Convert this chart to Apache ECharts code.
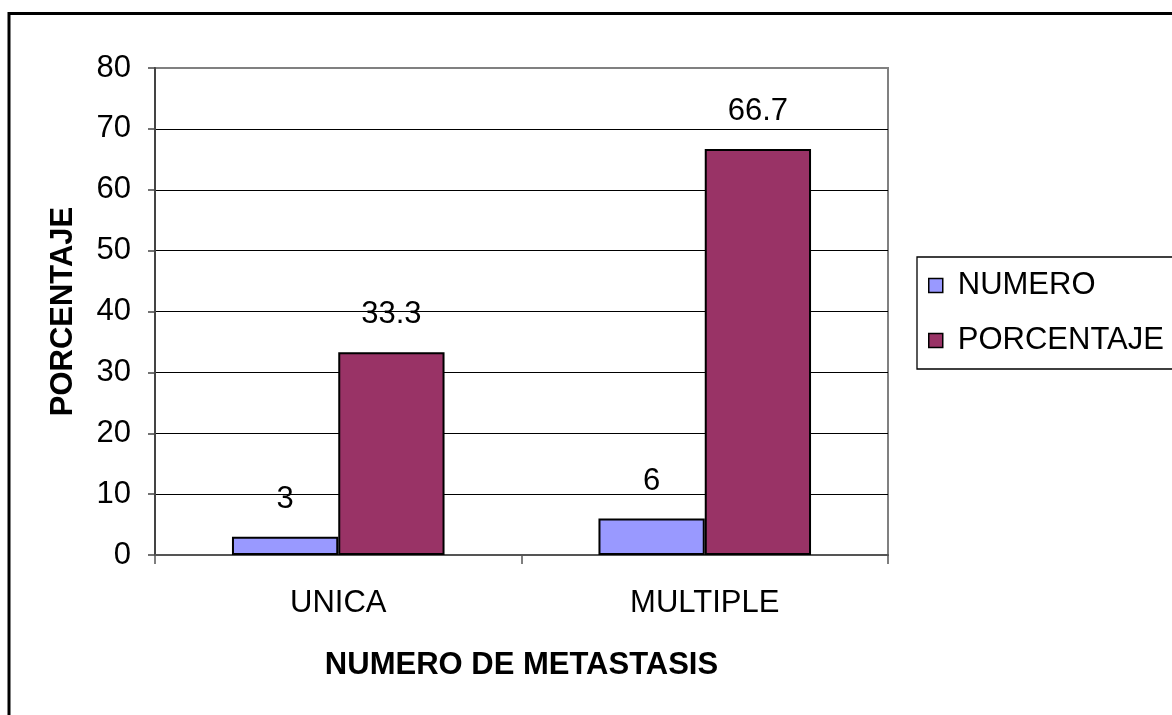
<!DOCTYPE html>
<html>
<head>
<meta charset="utf-8">
<script src="https://cdn.jsdelivr.net/npm/echarts@6/dist/echarts.min.js"></script>
<style>
  html, body { margin: 0; padding: 0; background: #fff; }
  #chart { width: 1172px; height: 715px; }
</style>
</head>
<body>
<div id="chart"></div>
<script>
// Metastasis count: absolute number and percentage per category
const categories = ['UNICA', 'MULTIPLE'];
const numero = [3, 6];
const porcentaje = [33.3, 66.7];
const seriesNames = ['NUMERO', 'PORCENTAJE'];
const xTitle = 'NUMERO DE METASTASIS';
const yTitle = 'PORCENTAJE';

const FONT = '"Liberation Sans", Arial, sans-serif';
const FS = 31;

const chart = echarts.init(document.getElementById('chart'), null, { renderer: 'canvas' });

const labelStyle = {
  show: true,
  position: 'top',
  distance: 22,
  color: '#000',
  fontFamily: FONT,
  fontSize: FS
};

chart.setOption({
  backgroundColor: '#fff',
  animation: false,
  graphic: [{
    type: 'rect',
    shape: { x: 9, y: 13.5, width: 1300, height: 900 },
    style: { fill: 'none', stroke: '#000', lineWidth: 3 },
    z: 100
  }],
  grid: {
    left: 155, top: 68, right: 284, bottom: 160,
    show: true, borderColor: '#808080', borderWidth: 2,
    containLabel: false
  },
  legend: {
    orient: 'vertical',
    left: 917, top: 257,
    padding: [13, 12, 13, 11],
    itemGap: 24,
    itemWidth: 14, itemHeight: 14,
    icon: 'rect',
    borderColor: '#000', borderWidth: 1.3,
    backgroundColor: '#fff',
    data: seriesNames.map(n => ({ name: n, itemStyle: { borderColor: '#000', borderWidth: 1.5 } })),
    textStyle: { fontFamily: FONT, fontSize: FS, color: '#000', padding: [0, 0, 0, 10] }
  },
  xAxis: {
    type: 'category',
    data: categories,
    boundaryGap: true,
    name: xTitle,
    nameLocation: 'middle',
    nameGap: 95,
    nameTextStyle: { fontFamily: FONT, fontSize: FS, fontWeight: 'bold', color: '#000' },
    axisLine: { show: true, lineStyle: { color: '#555', width: 2 } },
    axisTick: { show: true, alignWithLabel: false, length: 9, inside: false, lineStyle: { color: '#555', width: 1.5 } },
    axisLabel: { fontFamily: FONT, fontSize: FS, color: '#000', margin: 33 },
    splitLine: { show: false }
  },
  yAxis: {
    type: 'value',
    min: 0, max: 80, interval: 10,
    name: yTitle,
    nameLocation: 'middle',
    nameRotate: 90,
    nameGap: 76,
    nameTextStyle: { fontFamily: FONT, fontSize: FS, fontWeight: 'bold', color: '#000' },
    axisLine: { show: true, lineStyle: { color: '#444', width: 2 } },
    axisTick: { show: true, length: 7, lineStyle: { color: '#444', width: 1.5 } },
    axisLabel: { fontFamily: FONT, fontSize: FS, color: '#000', margin: 24 },
    splitLine: {
      show: true,
      lineStyle: {
        color: ['#555', '#000', '#000', '#000', '#000', '#000', '#000', '#000', '#808080'],
        width: 1.2
      }
    }
  },
  series: [
    {
      name: seriesNames[0],
      type: 'bar',
      data: numero,
      barGap: '0%',
      barCategoryGap: '42%',
      itemStyle: { color: '#9999FF', borderColor: '#000', borderWidth: 2 },
      label: labelStyle
    },
    {
      name: seriesNames[1],
      type: 'bar',
      data: porcentaje,
      itemStyle: { color: '#993366', borderColor: '#000', borderWidth: 2 },
      label: labelStyle
    }
  ]
});
</script>
</body>
</html>
